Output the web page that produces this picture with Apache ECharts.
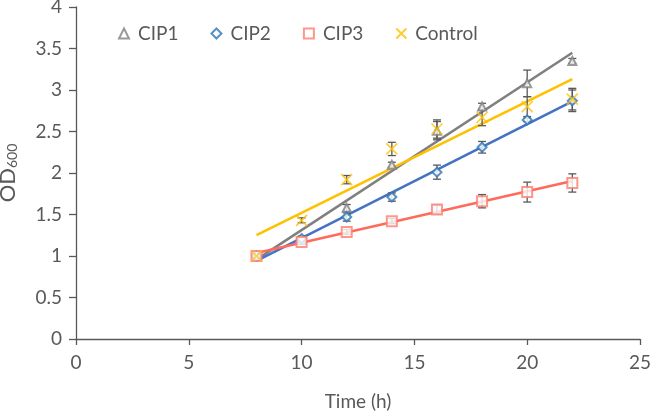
<!DOCTYPE html>
<html>
<head>
<meta charset="utf-8">
<script src="https://cdn.jsdelivr.net/npm/echarts@6/dist/echarts.min.js"></script>
<style>html,body{margin:0;padding:0;background:#fff;}#c{width:650px;height:411px;}</style>
</head>
<body>
<div id="c"></div>
<script>
const timeHours = [8, 10, 12, 14, 16, 18, 20, 22];
const cip1 = [1.00, 1.20, 1.58, 2.10, 2.51, 2.80, 3.08, 3.35];
const cip1Err = [0.02, 0.03, 0.04, 0.03, 0.11, 0.04, 0.16, 0.03];
const cip2 = [1.00, 1.21, 1.47, 1.71, 2.01, 2.31, 2.64, 2.87];
const cip2Err = [0.02, 0.03, 0.05, 0.05, 0.085, 0.07, 0.02, 0.13];
const cip3 = [1.00, 1.17, 1.29, 1.42, 1.56, 1.66, 1.77, 1.88];
const cip3Err = [0.02, 0.03, 0.03, 0.03, 0.05, 0.08, 0.12, 0.11];
const control = [1.00, 1.43, 1.92, 2.29, 2.53, 2.67, 2.80, 2.89];
const controlErr = [0.02, 0.03, 0.05, 0.08, 0.11, 0.10, 0.12, 0.13];
const xTicks = [0, 5, 10, 15, 20, 25];
const yTicks = [0, 0.5, 1, 1.5, 2, 2.5, 3, 3.5, 4];

const FONT = 'Lato';
const TXT = '#595959';
const AX = '#595959';

function fit(xs, ys) {
  const n = xs.length;
  const mx = xs.reduce((a, b) => a + b, 0) / n;
  const my = ys.reduce((a, b) => a + b, 0) / n;
  let sxy = 0, sxx = 0;
  for (let i = 0; i < n; i++) { sxy += (xs[i] - mx) * (ys[i] - my); sxx += (xs[i] - mx) ** 2; }
  const b = sxy / sxx, a = my - b * mx;
  const x0 = xs[0], x1 = xs[n - 1];
  return [[x0, a + b * x0], [x1, a + b * x1]];
}

const groups = [
  { name: 'CIP1', y: cip1, e: cip1Err, color: '#808080', mcolor: '#7F7F7F', symbol: 'emptyTriangle', size: 8 },
  { name: 'CIP2', y: cip2, e: cip2Err, color: '#4472C4', mcolor: '#2E75B6', symbol: 'emptyDiamond', size: 9 },
  { name: 'CIP3', y: cip3, e: cip3Err, color: '#FF6B5B', mcolor: '#FF7C6E', symbol: 'emptyRect', size: 10 },
  { name: 'Control', y: control, e: controlErr, color: '#FFC000', mcolor: '#FFC000', symbol: 'path://M0,0L10,10M10,0L0,10', size: 11 }
];

const series = [];
groups.forEach(g => {
  series.push({
    type: 'line', silent: true, data: fit(timeHours, g.y), showSymbol: false, symbol: 'none',
    lineStyle: { color: g.color, width: 2.6 }, z: 2
  });
});
groups.forEach(g => {
  series.push({
    type: 'custom', silent: true, z: 3,
    data: timeHours.map((x, i) => [x, g.y[i] - g.e[i], g.y[i] + g.e[i]]),
    renderItem: function (params, api) {
      const lo = api.coord([api.value(0), api.value(1)]);
      const hi = api.coord([api.value(0), api.value(2)]);
      const w = 4;
      const st = { stroke: '#595959', lineWidth: 1.3 };
      return {
        type: 'group', children: [
          { type: 'line', shape: { x1: hi[0], y1: hi[1], x2: lo[0], y2: lo[1] }, style: st },
          { type: 'line', shape: { x1: hi[0] - w, y1: hi[1], x2: hi[0] + w, y2: hi[1] }, style: st },
          { type: 'line', shape: { x1: lo[0] - w, y1: lo[1], x2: lo[0] + w, y2: lo[1] }, style: st }
        ]
      };
    }
  });
});
groups.forEach(g => {
  series.push({
    name: g.name, type: 'scatter', z: 4,
    data: timeHours.map((x, i) => [x, g.y[i]]),
    symbol: g.symbol, symbolSize: g.size,
    itemStyle: g.name === 'Control'
      ? { color: 'rgba(0,0,0,0)', borderColor: g.mcolor, borderWidth: 1.6 }
      : { color: g.mcolor, borderColor: g.mcolor, borderWidth: 1.3 }
  });
});

const chart = echarts.init(document.getElementById('c'));
chart.setOption({
  animation: false,
  backgroundColor: '#fff',
  grid: { left: 76, right: 10, top: 7, bottom: 72, containLabel: false, outerBoundsMode: 'none' },
  legend: {
    data: groups.map(g => g.name),
    top: 19, left: 113,
    itemWidth: 10, itemHeight: 10, itemGap: 32,
    textStyle: { color: TXT, fontFamily: FONT, fontSize: 19, padding: [0, 0, 0, 4] }
  },
  xAxis: {
    type: 'value', min: 0, max: 25, interval: 5,
    name: 'Time (h)', nameLocation: 'middle', nameGap: 53,
    nameTextStyle: { color: TXT, fontFamily: FONT, fontSize: 19 },
    axisLine: { show: true, onZero: false, lineStyle: { color: AX, width: 1.3 } },
    axisTick: { show: true, length: 6, lineStyle: { color: AX, width: 1.3 } },
    axisLabel: { color: TXT, fontFamily: FONT, fontSize: 19, margin: 14, formatter: v => xTicks.includes(v) ? String(v) : '' },
    splitLine: { show: false }
  },
  yAxis: {
    type: 'value', min: 0, max: 4, interval: 0.5,
    name: '{a|OD}{b|600}', nameLocation: 'middle', nameRotate: 90, nameGap: 57,
    nameTextStyle: {
      color: TXT, fontFamily: FONT,
      rich: {
        a: { fontSize: 22, color: TXT, fontFamily: FONT },
        b: { fontSize: 14, color: TXT, fontFamily: FONT, padding: [9, 0, 0, 0] }
      }
    },
    axisLine: { show: true, lineStyle: { color: AX, width: 1.3 } },
    axisTick: { show: true, length: 7, lineStyle: { color: AX, width: 1.3 } },
    axisLabel: { color: TXT, fontFamily: FONT, fontSize: 19, margin: 14, formatter: v => yTicks.includes(v) ? String(v) : '' },
    splitLine: { show: false }
  },
  series: series
});
</script>
</body>
</html>
